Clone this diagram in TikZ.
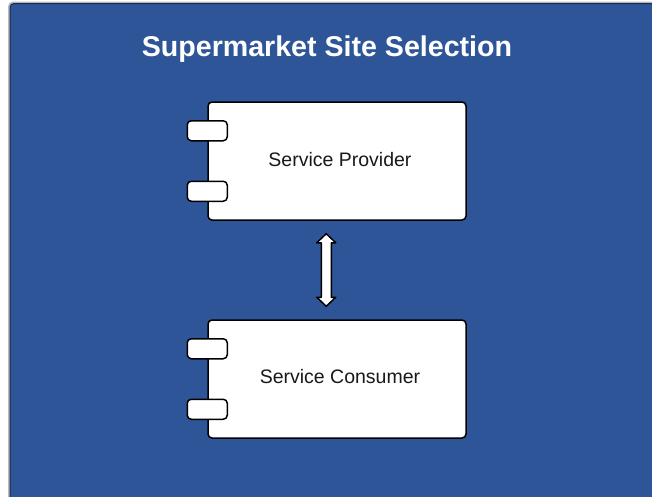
\documentclass[tikz,border=0pt]{standalone}
\usepackage{fontspec}
\setmainfont{Liberation Sans}
\usetikzlibrary{calc}
\definecolor{panelblue}{RGB}{46,85,151}
\definecolor{paneledge}{RGB}{24,42,78}
\definecolor{panelshadow}{RGB}{185,185,185}
\tikzset{
  component/.style={draw=black, line width=1.5pt, fill=white, rounded corners=4pt,
    minimum width=258pt, minimum height=118pt, inner sep=0pt},
  port/.style={draw=black, line width=1.5pt, fill=white, rounded corners=4pt,
    minimum width=40pt, minimum height=20pt, inner sep=0pt},
  label/.style={font=\fontsize{19.5}{22}\selectfont, text=black!90},
  blockarrow/.style={draw=black, line width=1.5pt, fill=white, line join=round},
  heading/.style={text=white, font=\fontsize{28.6}{32}\bfseries\selectfont}
}
\begin{document}
\begin{tikzpicture}[x=1pt, y=-1pt]
  \useasboundingbox (0,0) rectangle (652,496);
  \clip (0,0) rectangle (652,496);
  % panel with its soft shadow
  \fill[panelshadow, rounded corners=5pt] (8,1.5) rectangle (680,520);
  \draw[fill=panelblue, draw=paneledge, line width=1pt, rounded corners=4pt]
    (10,3.5) rectangle (680,520);
  \node[heading] (title) at (327,49) {Supermarket Site Selection};

  % provider component
  \node[component] (prov) at (337,161) {};
  \node[port] (prov-p1) at ($(prov.north west)+(0,29.5)$) {};
  \node[port] (prov-p2) at ($(prov.south west)+(0,-29.5)$) {};
  \node[label] (prov-label) at (340,160) {Service Provider};

  % consumer component
  \node[component] (cons) at (337,379) {};
  \node[port] (cons-p1) at ($(cons.north west)+(0,29.5)$) {};
  \node[port] (cons-p2) at ($(cons.south west)+(0,-29.5)$) {};
  \node[label] (cons-label) at (340,377) {Service Consumer};

  % two-way block arrow between the components
  \coordinate (atop) at ($(prov.south west)+(119,13)$);
  \coordinate (abot) at ($(cons.north west)+(119,-13)$);
  \draw[blockarrow]
    (atop) -- ++(9.5,9) -- ++(-4.5,0) -- ($(abot)+(5,-9)$) -- ++(4.5,0)
    -- (abot) -- ++(-9.5,-9) -- ++(4.5,0) -- ($(atop)+(-5,9)$) -- ++(-4.5,0) -- cycle;
\end{tikzpicture}
\end{document}
